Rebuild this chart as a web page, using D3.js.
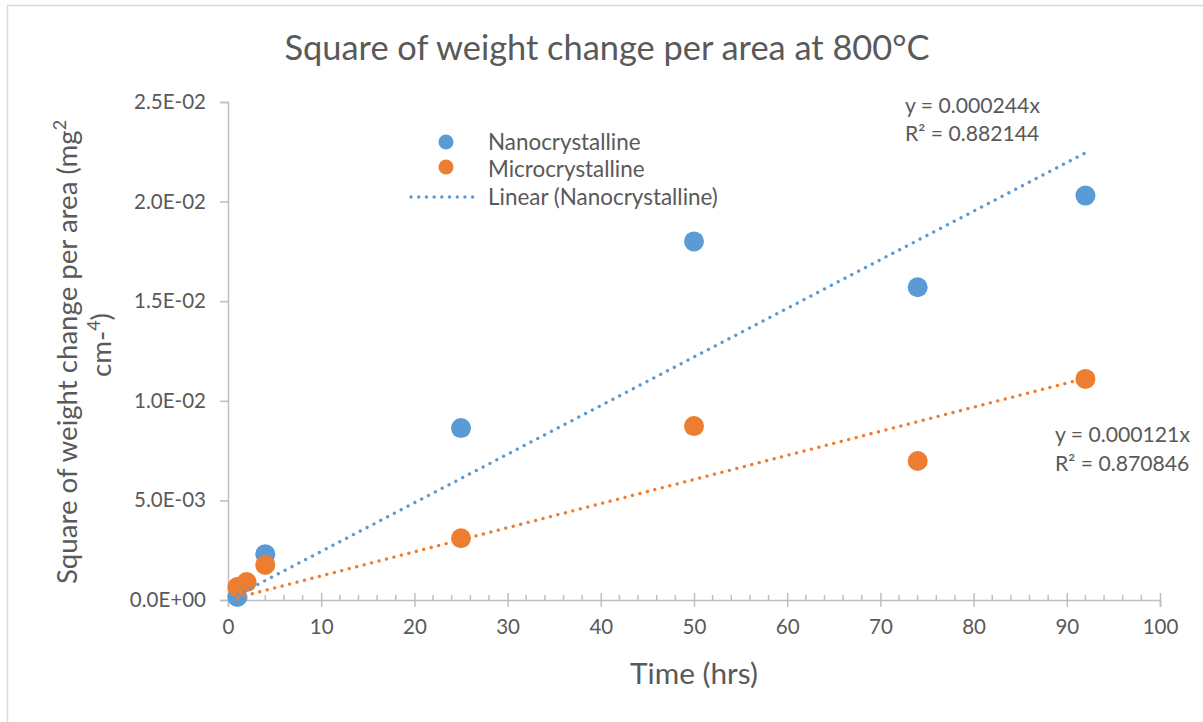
<!DOCTYPE html>
<html>
<head>
<meta charset="utf-8">
<script src="https://cdn.jsdelivr.net/npm/d3@7"></script>
<style>
  html, body { margin: 0; padding: 0; background: #fff; }
  svg { display: block; }
  text { font-family: Lato, "Noto Sans", sans-serif; fill: #595959; }
</style>
</head>
<body>
<svg id="chart" width="1203" height="722"></svg>
<script>
// ---- data ----
const nanoX = [1, 4, 25, 50, 74, 92];
const nanoY = [0.00015, 0.0023, 0.00863, 0.0180, 0.0157, 0.0203];
const microX = [1, 2, 4, 25, 50, 74, 92];
const microY = [0.00065, 0.0009, 0.00176, 0.0031, 0.00873, 0.00698, 0.0111];
const nanoSlope = 0.000244;
const microSlope = 0.000121;
const xTicks = [0, 10, 20, 30, 40, 50, 60, 70, 80, 90, 100];
const yTicks = [0, 0.005, 0.01, 0.015, 0.02, 0.025];
const yTickLabels = ["0.0E+00", "5.0E-03", "1.0E-02", "1.5E-02", "2.0E-02", "2.5E-02"];
const legendLabels = ["Nanocrystalline", "Microcrystalline", "Linear (Nanocrystalline)"];
const eqNano = ["y = 0.000244x", "R² = 0.882144"];
const eqMicro = ["y = 0.000121x", "R² = 0.870846"];
const titleText = "Square of weight change per area at 800°C";
const xTitle = "Time (hrs)";

const BLUE = "#5B9BD5", ORANGE = "#ED7D31", AXIS = "#BFBFBF";

const svg = d3.select("#chart");

// helper: size font so text spans a target width
function fitSize(str, target, base) {
  const t = svg.append("text").attr("font-size", base).text(str);
  const w = t.node().getComputedTextLength();
  t.remove();
  return base * target / w;
}

// outer border
svg.append("rect").attr("x", 7.5).attr("y", 5.5).attr("width", 1200).attr("height", 730)
  .attr("fill", "none").attr("stroke", "#D9D9D9").attr("stroke-width", 1.5);

const x = d3.scaleLinear().domain([0, 100]).range([228, 1160]);
const y = d3.scaleLinear().domain([0, 0.025]).range([600, 102]);

// title
const titleSize = fitSize(titleText, 645, 28);
svg.append("text").attr("x", 607).attr("y", 60).attr("text-anchor", "middle")
  .attr("font-size", titleSize).text(titleText);

// y axis
const tickSize = fitSize("2.5E-02", 72, 16);
const yAxis = d3.axisLeft(y).tickValues(yTicks).tickFormat((d, i) => yTickLabels[i]).tickSize(8).tickPadding(14);
const gy = svg.append("g").attr("transform", `translate(${x(0)},0)`).call(yAxis);
gy.select(".domain").attr("stroke", AXIS).attr("stroke-width", 1.5);
gy.selectAll(".tick line").attr("stroke", AXIS).attr("stroke-width", 1.5);
gy.selectAll(".tick text").attr("font-size", tickSize).attr("fill", "#595959")
  .attr("font-family", "Lato, 'Noto Sans', sans-serif");

// x axis minor ticks (inside)
const minorTicks = d3.range(0, 101, 2).filter(v => v % 10 !== 0);
svg.append("g").selectAll("line").data(minorTicks).join("line")
  .attr("x1", d => x(d)).attr("x2", d => x(d)).attr("y1", y(0)).attr("y2", y(0) - 5)
  .attr("stroke", AXIS).attr("stroke-width", 1.5);
// x axis major (crossing)
const xAxis = d3.axisBottom(x).tickValues(xTicks).tickFormat(d3.format("d")).tickSize(7).tickPadding(12);
const gx = svg.append("g").attr("transform", `translate(0,${y(0)})`).call(xAxis);
gx.select(".domain").attr("stroke", AXIS).attr("stroke-width", 1.5);
gx.selectAll(".tick line").attr("stroke", AXIS).attr("stroke-width", 1.5).attr("y1", -7);
gx.selectAll(".tick text").attr("font-size", tickSize).attr("fill", "#595959")
  .attr("font-family", "Lato, 'Noto Sans', sans-serif");

// axis titles
const xTitleSize = fitSize(xTitle, 128, 24);
svg.append("text").attr("x", 694).attr("y", 684).attr("text-anchor", "middle")
  .attr("font-size", xTitleSize).text(xTitle);

const yTitleSize = fitSize("Square of weight change per area (mg2", 470, 24);
const yt = svg.append("text").attr("transform", "translate(77,352) rotate(-90)")
  .attr("text-anchor", "middle").attr("font-size", yTitleSize);
yt.append("tspan").text("Square of weight change per area (mg");
yt.append("tspan").attr("font-size", yTitleSize * 0.65).attr("dy", -yTitleSize * 0.4).text("2");
const yt2 = svg.append("text").attr("transform", "translate(111,345) rotate(-90)")
  .attr("text-anchor", "middle").attr("font-size", yTitleSize);
yt2.append("tspan").text("cm-");
yt2.append("tspan").attr("font-size", yTitleSize * 0.65).attr("dy", -yTitleSize * 0.4).text("4");
yt2.append("tspan").attr("dy", yTitleSize * 0.4).text(")");

// markers
const nano = nanoX.map((d, i) => ({ x: d, y: nanoY[i] }));
const micro = microX.map((d, i) => ({ x: d, y: microY[i] }));
svg.append("g").selectAll("circle").data(nano).join("circle")
  .attr("cx", d => x(d.x)).attr("cy", d => y(d.y)).attr("r", 10).attr("fill", BLUE);
svg.append("g").selectAll("circle").data(micro).join("circle")
  .attr("cx", d => x(d.x)).attr("cy", d => y(d.y)).attr("r", 10).attr("fill", ORANGE);

// trendlines
const line = d3.line().x(d => x(d[0])).y(d => y(d[1]));
function trend(xs, slope, color) {
  const lo = d3.min(xs), hi = d3.max(xs);
  svg.append("path").attr("d", line([[lo, slope * lo], [hi, slope * hi]]))
    .attr("fill", "none").attr("stroke", color).attr("stroke-width", 3.3)
    .attr("stroke-linecap", "round").attr("stroke-dasharray", "0.1 7.6");
}
trend(nanoX, nanoSlope, BLUE);
trend(microX, microSlope, ORANGE);

// legend
const legSize = fitSize(legendLabels[2], 230, 17);
const leg = svg.append("g");
leg.append("circle").attr("cx", 446).attr("cy", 142).attr("r", 7.5).attr("fill", BLUE);
leg.append("circle").attr("cx", 446).attr("cy", 167).attr("r", 7.5).attr("fill", ORANGE);
leg.append("line").attr("x1", 411).attr("x2", 474).attr("y1", 197).attr("y2", 197)
  .attr("stroke", BLUE).attr("stroke-width", 3.3).attr("stroke-linecap", "round")
  .attr("stroke-dasharray", "0.1 7.6");
legendLabels.forEach((l, i) => {
  leg.append("text").attr("x", 488).attr("y", 142 + i * 27.5).attr("dy", "0.35em")
    .attr("font-size", legSize).text(l);
});

// equations
const eqSize = fitSize(eqNano[0], 135, 17);
eqNano.forEach((l, i) => {
  svg.append("text").attr("x", 905).attr("y", 106 + i * 27.5).attr("dy", "0.35em")
    .attr("font-size", eqSize).text(l);
});
eqMicro.forEach((l, i) => {
  svg.append("text").attr("x", 1055).attr("y", 435 + i * 29).attr("dy", "0.35em")
    .attr("font-size", eqSize).text(l);
});
</script>
</body>
</html>
